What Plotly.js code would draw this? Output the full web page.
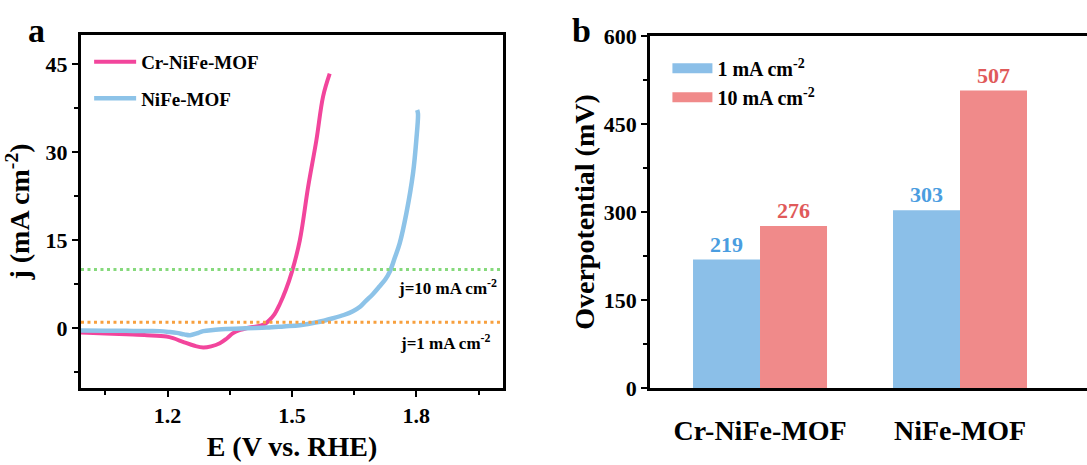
<!DOCTYPE html>
<html><head><meta charset="utf-8">
<script src="https://cdn.plot.ly/plotly-3.0.1.min.js"></script>
<style>html,body{margin:0;padding:0;background:#fff}</style>
</head><body><div id="chart" style="width:1087px;height:465px"></div>
<script>
// Panel a: LSV curves
const crE = [0.991,1.05,1.10,1.15,1.197,1.213,1.24,1.265,1.286,1.305,1.326,1.342,1.358,1.375,1.390,1.405,1.422,1.436,1.446,1.458,1.47,1.485,1.50,1.519,1.539,1.559,1.575,1.591];
const crJ = [-0.75,-0.9,-1.05,-1.2,-1.43,-1.7,-2.4,-3.0,-3.3,-3.1,-2.56,-1.8,-0.85,-0.3,0.0,0.2,0.4,0.8,1.4,2.4,4.0,6.5,9.65,15.0,24.1,32.1,39.5,43.4];
const niE = [0.991,1.05,1.10,1.15,1.181,1.205,1.222,1.240,1.254,1.270,1.286,1.31,1.342,1.39,1.439,1.48,1.519,1.56,1.599,1.625,1.647,1.665,1.679,1.695,1.711,1.725,1.736,1.748,1.76,1.776,1.792,1.80,1.804,1.802];
const niJ = [-0.4,-0.42,-0.45,-0.48,-0.5,-0.65,-0.8,-1.05,-1.2,-0.9,-0.5,-0.3,-0.15,0.0,0.1,0.3,0.5,1.0,1.7,2.25,2.9,3.7,4.7,5.8,7.1,8.3,9.65,12.0,14.5,19.6,26.4,32.1,36.6,37.2];
const refJ = [10, 1];
// Panel b: overpotentials
const cats = ["Cr-NiFe-MOF", "NiFe-MOF"];
const eta1 = [219, 303];
const eta10 = [276, 507];
const seriesB = ["1 mA cm<sup>-2</sup>", "10 mA cm<sup>-2</sup>"];

const serif = "Liberation Serif, Times New Roman, serif";
const bf = (s, c) => ({family: serif, size: s, color: c || "#000", weight: "bold"});
const blueBar = "#8bbfe8", redBar = "#f08a8a";

const traces = [
  {x: crE, y: crJ, type: "scatter", mode: "lines", name: "Cr-NiFe-MOF", legendgroup: "a1",
   line: {color: "#f2459c", width: 4, shape: "spline"}, xaxis: "x", yaxis: "y", legend: "legend"},
  {x: niE, y: niJ, type: "scatter", mode: "lines", name: "NiFe-MOF", legendgroup: "a2",
   line: {color: "#8dc3e8", width: 4.5, shape: "spline"}, xaxis: "x", yaxis: "y", legend: "legend"},
  {x: [0.991, 2.009], y: [refJ[0], refJ[0]], type: "scatter", mode: "lines", showlegend: false,
   line: {color: "#86d97c", width: 3, dash: "3px,3.5px"}, xaxis: "x", yaxis: "y"},
  {x: [0.991, 2.009], y: [refJ[1], refJ[1]], type: "scatter", mode: "lines", showlegend: false,
   line: {color: "#f7a03e", width: 3, dash: "3px,3.5px"}, xaxis: "x", yaxis: "y"},
  {x: cats, y: eta1, type: "bar", name: seriesB[0], marker: {color: blueBar}, showlegend: false,
   text: eta1.map(String), textposition: "outside", textfont: bf(22, "#4a9de0"), cliponaxis: false,
   xaxis: "x2", yaxis: "y2"},
  {x: cats, y: eta10, type: "bar", name: seriesB[1], marker: {color: redBar}, showlegend: false,
   text: eta10.map(String), textposition: "outside", textfont: bf(22, "#e05a5a"), cliponaxis: false,
   xaxis: "x2", yaxis: "y2"},
  // legend swatches for panel b
  {x: [null], y: [null], type: "scatter", mode: "lines", name: seriesB[0], legendgroup: "b1",
   line: {color: blueBar, width: 18}, xaxis: "x2", yaxis: "y2", legend: "legend2"},
  {x: [null], y: [null], type: "scatter", mode: "lines", name: seriesB[1], legendgroup: "b2",
   line: {color: redBar, width: 18}, xaxis: "x2", yaxis: "y2", legend: "legend2"}
];

const tk = {ticks: "outside", ticklen: 6, tickwidth: 2, tickcolor: "#000"};
const layout = {
  width: 1087, height: 465, margin: {l: 0, r: 0, t: 0, b: 0},
  paper_bgcolor: "#fff", plot_bgcolor: "#fff",
  showlegend: true, barmode: "group", bargap: 0.33, bargroupgap: 0,
  xaxis: Object.assign({domain: [0.0745, 0.4627], range: [0.991, 2.009], tick0: 1.2, dtick: 0.3,
    tickformat: ".1f", showgrid: false, zeroline: false, showline: true, mirror: true,
    linecolor: "#000", linewidth: 3,
    minor: {dtick: 0.15, ticks: "outside", ticklen: 4, tickwidth: 2, tickcolor: "#000"},
    tickfont: bf(22), title: {text: "E (V vs. RHE)", font: bf(28), standoff: 10}}, tk),
  yaxis: Object.assign({domain: [0.1656, 0.9247], range: [-10.2, 50], tick0: 0, dtick: 15,
    showgrid: false, zeroline: false, showline: true, mirror: true,
    linecolor: "#000", linewidth: 3,
    minor: {dtick: 7.5, ticks: "outside", ticklen: 4, tickwidth: 2, tickcolor: "#000"},
    tickfont: bf(22), title: {text: "j (mA cm<sup>-2</sup>)", font: bf(28), standoff: 8}}, tk),
  xaxis2: {domain: [0.598, 1.0], range: [-0.55, 1.635], anchor: "y2",
    showgrid: false, zeroline: false, showline: true, mirror: true,
    linecolor: "#000", linewidth: 3, ticks: "", tickfont: bf(28), ticklabelstandoff: 15},
  yaxis2: Object.assign({domain: [0.1656, 0.9226], range: [0, 600], dtick: 150, anchor: "x2",
    showgrid: false, zeroline: false, showline: true,
    linecolor: "#000", linewidth: 3,
    minor: {dtick: 75, ticks: "outside", ticklen: 4, tickwidth: 2, tickcolor: "#000"},
    tickfont: bf(22), title: {text: "Overpotential (mV)", font: bf(28), standoff: 1}}, tk),
  legend: {x: 0.082, y: 0.908, xanchor: "left", yanchor: "top", bgcolor: "rgba(0,0,0,0)",
    font: bf(19), tracegroupgap: 9, itemwidth: 42, traceorder: "grouped"},
  legend2: {x: 0.614, y: 0.895, xanchor: "left", yanchor: "top", bgcolor: "rgba(0,0,0,0)",
    font: bf(20), tracegroupgap: 0, itemwidth: 40, traceorder: "grouped"},
  annotations: [
    {text: "a", xref: "paper", yref: "paper", x: 0.024, y: 0.935, xanchor: "left", yanchor: "middle", showarrow: false, font: bf(34)},
    {text: "b", xref: "paper", yref: "paper", x: 0.524, y: 0.935, xanchor: "left", yanchor: "middle", showarrow: false, font: bf(34)},
    {text: "j=10 mA cm<sup>-2</sup>", xref: "x", yref: "paper", x: 1.875, y: (465-287)/465, xanchor: "center", yanchor: "middle", showarrow: false, font: bf(17)},
    {text: "j=1 mA cm<sup>-2</sup>", xref: "x", yref: "paper", x: 1.87, y: (465-342)/465, xanchor: "center", yanchor: "middle", showarrow: false, font: bf(17)}
  ]
};
Plotly.newPlot("chart", traces, layout, {displayModeBar: false, staticPlot: true});
</script></body></html>
